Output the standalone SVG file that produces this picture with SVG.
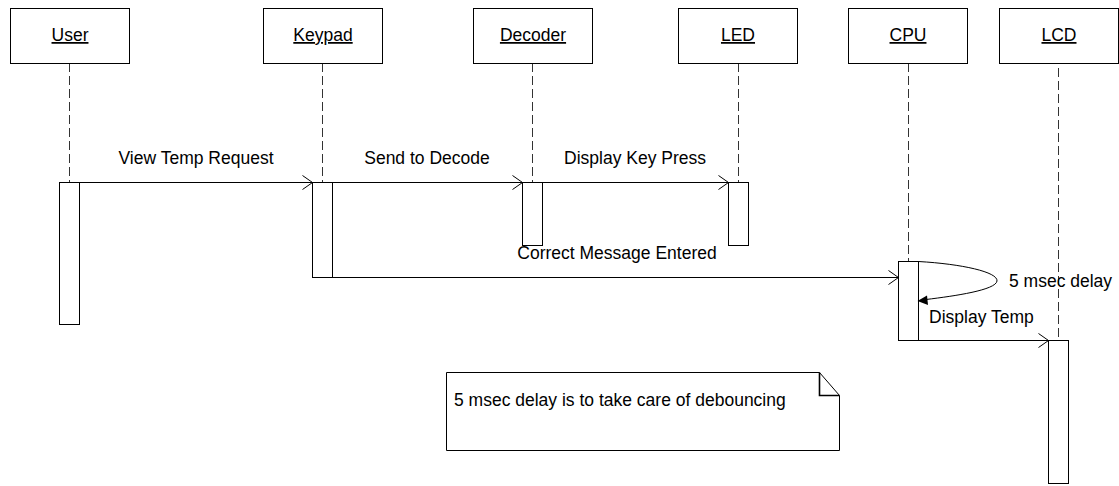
<svg xmlns="http://www.w3.org/2000/svg" width="1119" height="486" viewBox="0 0 1119 486">
  <style>
    .box { fill: #fff; stroke: #000; stroke-width: 1; }
    .life { stroke: #333; stroke-width: 1; stroke-dasharray: 9 4; fill: none; }
    .act { fill: #fff; stroke: #000; stroke-width: 1; }
    .msg { stroke: #000; stroke-width: 1; fill: none; }
    .lbl { font-family: "Liberation Sans", Arial, sans-serif; font-size: 17.5px; fill: #000; }
    .name { text-anchor: middle; text-decoration: underline; }
    .mid { text-anchor: middle; }
  </style>
  <defs>
    <marker id="open" markerWidth="12" markerHeight="16" refX="11" refY="8" orient="auto" markerUnits="userSpaceOnUse">
      <path d="M1,1 L11,8 L1,15" fill="none" stroke="#000" stroke-width="1"/>
    </marker>
  </defs>
  <rect width="1119" height="486" fill="#fff"/>

  <!-- lifelines -->
  <g id="lifelines">
    <line class="life" x1="69.5" y1="63" x2="69.5" y2="182"/>
    <line class="life" x1="322.5" y1="63" x2="322.5" y2="182"/>
    <line class="life" x1="532.5" y1="63" x2="532.5" y2="182"/>
    <line class="life" x1="738.5" y1="63" x2="738.5" y2="182"/>
    <line class="life" x1="908.5" y1="63" x2="908.5" y2="261"/>
    <line class="life" x1="1058.5" y1="68" x2="1058.5" y2="340"/>
  </g>

  <!-- participants -->
  <g id="user">
    <rect class="box" x="10.5" y="8.5" width="119" height="55"/>
    <text class="lbl name" x="70" y="41">User</text>
    <rect class="act" x="59.5" y="182.5" width="20" height="142"/>
  </g>
  <g id="keypad">
    <rect class="box" x="263.5" y="8.5" width="119" height="55"/>
    <text class="lbl name" x="323" y="41">Keypad</text>
    <rect class="act" x="312.5" y="182.5" width="20" height="95"/>
  </g>
  <g id="decoder">
    <rect class="box" x="473.5" y="8.5" width="119" height="55"/>
    <text class="lbl name" x="533" y="41">Decoder</text>
    <rect class="act" x="522.5" y="182.5" width="20" height="63"/>
  </g>
  <g id="led">
    <rect class="box" x="678.5" y="8.5" width="119" height="55"/>
    <text class="lbl name" x="738" y="41">LED</text>
    <rect class="act" x="728.5" y="182.5" width="20" height="63"/>
  </g>
  <g id="cpu">
    <rect class="box" x="848.5" y="8.5" width="119" height="55"/>
    <text class="lbl name" x="908" y="41">CPU</text>
    <rect class="act" x="898.5" y="261.5" width="20" height="79"/>
  </g>
  <g id="lcd">
    <rect class="box" x="999.5" y="8.5" width="119" height="55"/>
    <text class="lbl name" x="1059" y="41">LCD</text>
    <rect class="act" x="1048.5" y="340.5" width="20" height="143"/>
  </g>

  <!-- messages -->
  <g id="connectors">
    <line class="msg" x1="79.5" y1="182.5" x2="312.5" y2="182.5" marker-end="url(#open)"/>
    <line class="msg" x1="332.5" y1="182.5" x2="522.5" y2="182.5" marker-end="url(#open)"/>
    <line class="msg" x1="542.5" y1="182.5" x2="728.5" y2="182.5" marker-end="url(#open)"/>
    <line class="msg" x1="332.5" y1="277.5" x2="898.5" y2="277.5" marker-end="url(#open)"/>
    <line class="msg" x1="918.5" y1="340.5" x2="1048.5" y2="340.5" marker-end="url(#open)"/>
    <!-- self call on CPU -->
    <path class="msg" d="M918.5,261.5 C962,264 998,272 997,281 C996,290 955,296 926,299.5"/>
    <path d="M917.5,301 L927,295.5 L928,305 Z" fill="#000"/>
  </g>

  <g id="labels">
    <text class="lbl mid" x="196" y="164">View Temp Request</text>
    <text class="lbl mid" x="427" y="164">Send to Decode</text>
    <text class="lbl mid" x="635" y="164">Display Key Press</text>
    <text class="lbl mid" x="617" y="259">Correct Message Entered</text>
    <text class="lbl" x="1009" y="287">5 msec delay</text>
    <text class="lbl" x="929" y="323">Display Temp</text>
  </g>

  <!-- note -->
  <g id="note">
    <path d="M446.5,372.5 L819.5,372.5 L839.5,395.5 L839.5,450.5 L446.5,450.5 Z" fill="#fff" stroke="#000" stroke-width="1"/>
    <path d="M819.5,372.5 L819.5,395.5 L839.5,395.5" fill="none" stroke="#000" stroke-width="1.6"/>
    <text class="lbl" x="454" y="406">5 msec delay is to take care of debouncing</text>
  </g>
</svg>
